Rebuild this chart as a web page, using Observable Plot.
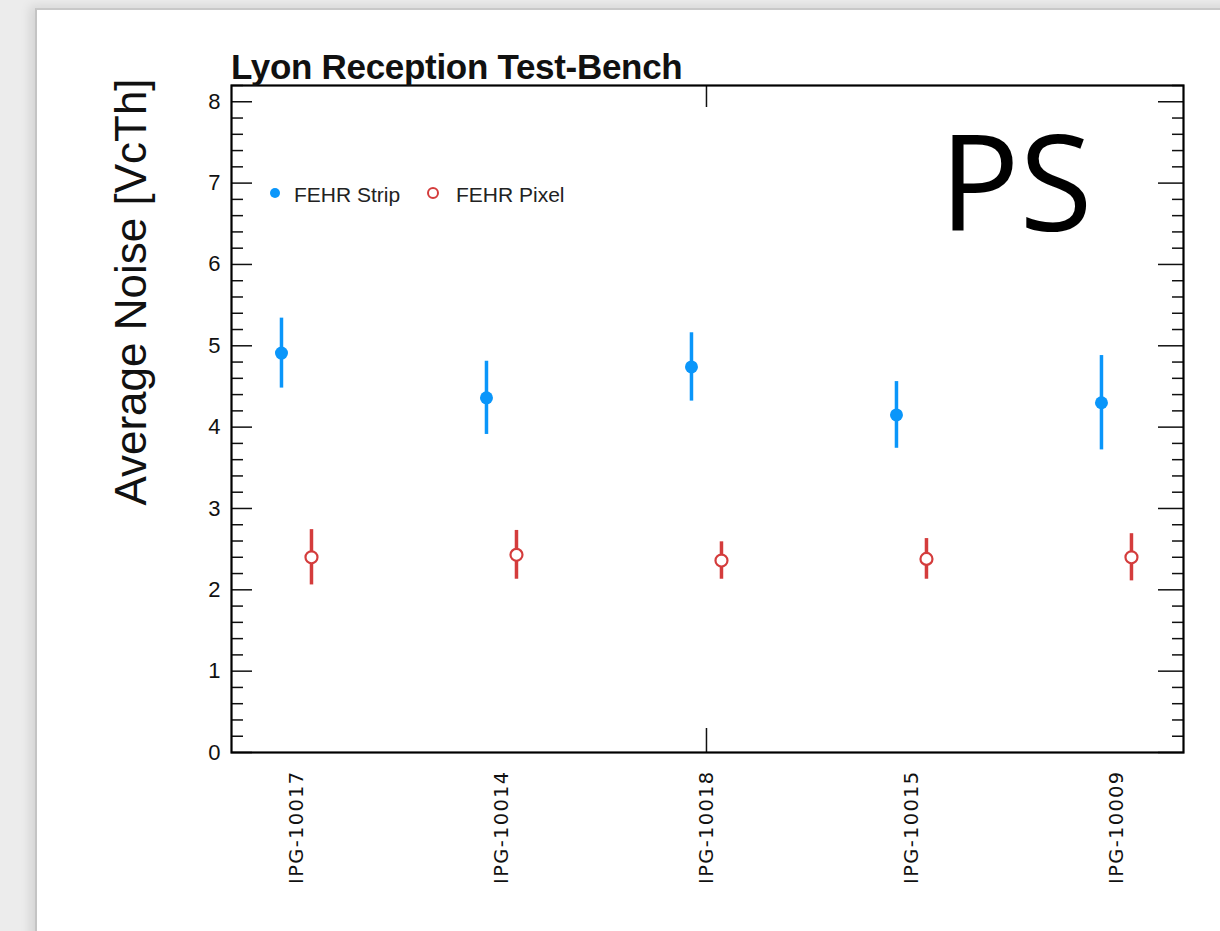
<!DOCTYPE html>
<html><head><meta charset="utf-8">
<script src="https://cdn.jsdelivr.net/npm/d3@7"></script>
<script src="https://cdn.jsdelivr.net/npm/@observablehq/plot@0.6"></script>
<style>
html,body{margin:0;padding:0;width:1220px;height:931px;overflow:hidden;background:#ececec;}
#card{position:absolute;left:35px;top:8px;width:1300px;height:1000px;background:#fff;border-left:2px solid #c4c4c4;border-top:2px solid #c8c8c8;box-shadow:-5px -2px 10px rgba(0,0,0,0.10);}
#chart{position:absolute;left:0;top:0;}
#chart g[aria-label="x-axis tick label"] text{letter-spacing:1.3px;}
.t{position:absolute;white-space:nowrap;line-height:1;color:#111;}
#title{left:231px;top:47px;font:bold 35px "Liberation Sans",Arial,sans-serif;letter-spacing:-0.3px;}
#ylab{left:-119px;top:267px;width:500px;text-align:center;font:44px "Liberation Sans",Arial,sans-serif;transform:rotate(-90deg);transform-origin:50% 50%;}
#ps{left:866px;top:89px;width:300px;text-align:center;font:133px "Open Sans",sans-serif;color:#000;}
.leg{font:21px "Liberation Sans",Arial,sans-serif;top:183px;color:#222;}
.mk{position:absolute;box-sizing:border-box;border-radius:50%;}
</style></head><body>
<div id="card"></div>
<div id="chart"></div>
<div class="t" id="title"></div>
<div class="t" id="ylab"></div>
<div class="t" id="ps"></div>
<div class="mk" id="mk0" style="left:270px;top:188px;width:10px;height:10px;"></div>
<div class="t leg" id="leg0" style="left:294px;"></div>
<div class="mk" id="mk1" style="left:427px;top:187px;width:12px;height:12px;border:2px solid;background:#fff;"></div>
<div class="t leg" id="leg1" style="left:456px;"></div>
<script>
// ---- data ----
const categories = ["IPG-10017", "IPG-10014", "IPG-10018", "IPG-10015", "IPG-10009"];
const stripMean = [4.91, 4.36, 4.74, 4.15, 4.30];
const stripErr  = [0.43, 0.45, 0.42, 0.41, 0.58];
const pixelMean = [2.40, 2.43, 2.36, 2.38, 2.40];
const pixelErr  = [0.34, 0.30, 0.23, 0.25, 0.29];
const seriesNames = ["FEHR Strip", "FEHR Pixel"];
const yTickValues = [0, 1, 2, 3, 4, 5, 6, 7, 8];
const titleText = "Lyon Reception Test-Bench";
const yLabelText = "Average Noise [VcTh]";
const panelText = "PS";

// ---- styles ----
const blue = "#0a96fa";
const red = "#d43c3c";

const strip = categories.map((c, i) => ({i, cat: c, mean: stripMean[i], lo: stripMean[i] - stripErr[i], hi: stripMean[i] + stripErr[i]}));
const pixel = categories.map((c, i) => ({i, cat: c, mean: pixelMean[i], lo: pixelMean[i] - pixelErr[i], hi: pixelMean[i] + pixelErr[i]}));
const yMinor = d3.range(0, 42).map(k => k / 5).filter(v => Math.abs(v - Math.round(v)) > 1e-9 && v <= 8.2);
const catIdx = categories.map((c, i) => i);

document.getElementById("title").textContent = titleText;
document.getElementById("ylab").textContent = yLabelText;
document.getElementById("ps").textContent = panelText;
document.getElementById("leg0").textContent = seriesNames[0];
document.getElementById("leg1").textContent = seriesNames[1];
document.getElementById("mk0").style.background = blue;
document.getElementById("mk1").style.borderColor = red;

const chart = Plot.plot({
  width: 1220, height: 931,
  marginLeft: 231, marginRight: 37, marginTop: 85, marginBottom: 179,
  style: {background: "transparent", fontFamily: "'Liberation Sans',Arial,sans-serif", color: "#111", overflow: "visible"},
  x: {type: "linear", domain: [-0.317, 4.327], axis: null},
  y: {domain: [0, 8.2], axis: null},
  marks: [
    // y tick labels
    Plot.axisY(yTickValues, {anchor: "left", tickSize: 0, tickPadding: 11, tickFormat: d3.format("d"), fontSize: 22, label: null}),
    // y ticks left/right
    Plot.axisY(yTickValues, {anchor: "left", tickSize: -21, text: null, label: null, strokeWidth: 1.5}),
    Plot.axisY(yMinor, {anchor: "left", tickSize: -12, text: null, label: null, strokeWidth: 1.5}),
    Plot.axisY(yTickValues, {anchor: "right", tickSize: -26, text: null, label: null, strokeWidth: 1.5}),
    Plot.axisY(yMinor, {anchor: "right", tickSize: -12, text: null, label: null, strokeWidth: 1.5}),
    // x ticks (one division at centre)
    Plot.axisX([2], {anchor: "bottom", tickSize: -24, text: null, label: null, strokeWidth: 1.5}),
    Plot.axisX([2], {anchor: "top", tickSize: -21, text: null, label: null, strokeWidth: 1.5}),
    // x category labels
    Plot.axisX(catIdx, {anchor: "bottom", tickSize: 0, tickPadding: 18, tickRotate: -90, tickFormat: i => categories[i],
      fontSize: 19.5, fontFamily: "'DejaVu Sans',sans-serif", label: null}),
    Plot.frame({stroke: "#000", strokeWidth: 2.2}),
    // strip
    Plot.ruleX(strip, {x: "i", y1: "lo", y2: "hi", stroke: blue, strokeWidth: 3.5, dx: -15}),
    Plot.dot(strip, {x: "i", y: "mean", r: 6.5, fill: blue, dx: -15}),
    // pixel
    Plot.ruleX(pixel, {x: "i", y1: "lo", y2: "hi", stroke: red, strokeWidth: 3.5, dx: 15}),
    Plot.dot(pixel, {x: "i", y: "mean", r: 6, stroke: red, strokeWidth: 2.2, fill: "white", dx: 15})
  ]
});
document.getElementById("chart").appendChild(chart);
</script>
</body></html>
